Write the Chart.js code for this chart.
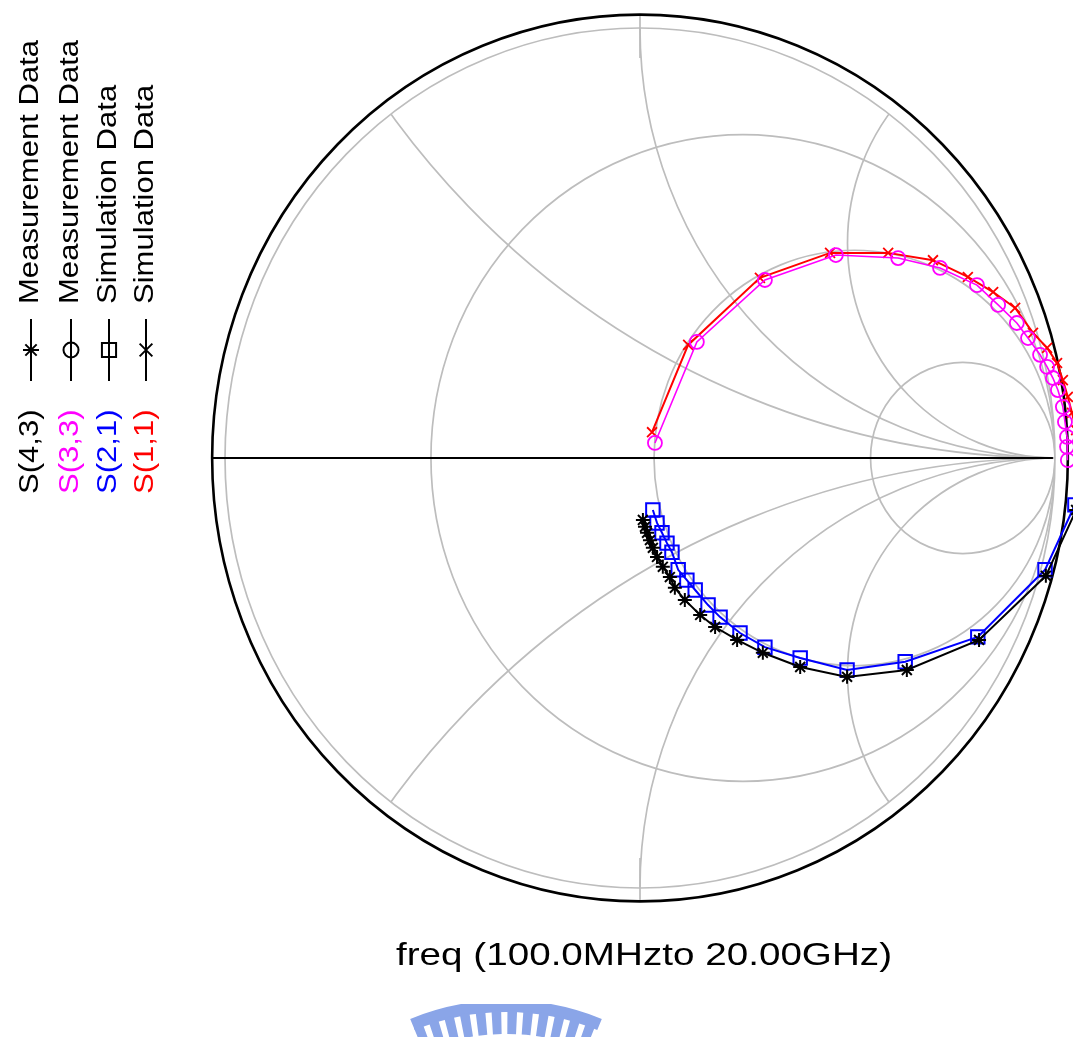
<!DOCTYPE html>
<html>
<head>
<meta charset="utf-8">
<title>Smith chart - S parameters</title>
<script src="https://cdn.jsdelivr.net/npm/chart.js@4.4.1/dist/chart.umd.min.js"></script>
<style>
    html, body { margin: 0; padding: 0; background: #fff; }
    #wrap { position: relative; width: 1073px; height: 1037px; }
</style>
</head>
<body>
<div id="wrap"><canvas id="smithChart" width="1073" height="1037"></canvas></div>
<script>
// Rejilla de la carta de Smith (resistencia / reactancia normalizadas)
const resistanceCircles = [0.33, 1.07, 3.5];
const reactanceArcs = [0.5, 1, 2];
const outerRing = 1.031;

// Leyenda
const seriesLabels = ['S(4,3)', 'S(3,3)', 'S(2,1)', 'S(1,1)'];
const seriesNames = ['Measurement Data', 'Measurement Data', 'Simulation Data', 'Simulation Data'];
const freqText = 'freq (100.0MHzto 20.00GHz)';

const s11Re = [0.029, 0.116, 0.289, 0.458, 0.598, 0.706, 0.790, 0.851, 0.904, 0.947, 0.981, 1.005, 1.019, 1.031, 1.041, 1.051, 1.055];
const s11Im = [0.060, 0.263, 0.419, 0.477, 0.477, 0.460, 0.421, 0.386, 0.349, 0.291, 0.256, 0.221, 0.181, 0.142, 0.105, 0.065, 0.019];

const s33Re = [0.036, 0.137, 0.301, 0.472, 0.622, 0.723, 0.812, 0.863, 0.908, 0.935, 0.964, 0.981, 0.995, 1.007, 1.019, 1.024, 1.029, 1.029, 1.031];
const s33Im = [0.035, 0.270, 0.414, 0.472, 0.465, 0.442, 0.402, 0.356, 0.314, 0.279, 0.240, 0.212, 0.186, 0.158, 0.119, 0.084, 0.049, 0.026, -0.005];

const s21Re = [0.031, 0.041, 0.053, 0.065, 0.077, 0.092, 0.113, 0.133, 0.164, 0.193, 0.241, 0.301, 0.386, 0.499, 0.639, 0.814, 0.976, 1.048, 1.060];
const s21Im = [-0.121, -0.151, -0.174, -0.198, -0.219, -0.260, -0.284, -0.307, -0.342, -0.370, -0.407, -0.440, -0.465, -0.493, -0.474, -0.416, -0.260, -0.109, -0.074];

const s43Re = [0.007, 0.012, 0.017, 0.024, 0.031, 0.041, 0.055, 0.072, 0.084, 0.108, 0.145, 0.181, 0.234, 0.296, 0.386, 0.499, 0.643, 0.817, 0.978, 1.051];
const s43Im = [-0.144, -0.160, -0.174, -0.191, -0.209, -0.230, -0.253, -0.277, -0.302, -0.330, -0.365, -0.393, -0.423, -0.453, -0.486, -0.509, -0.493, -0.423, -0.274, -0.121];

function toPoints(re, im) {
    return re.map((v, i) => ({ x: v, y: im[i] }));
}

const FONT = "'Liberation Sans', Arial, sans-serif";

// Dibuja la rejilla, el eje y el anillo exterior
const smithGrid = {
    id: 'smithGrid',
    beforeDatasetsDraw(chart) {
        const ctx = chart.ctx;
        const sx = chart.scales.x, sy = chart.scales.y;
        const kx = sx.getPixelForValue(1) - sx.getPixelForValue(0);
        const ky = sy.getPixelForValue(0) - sy.getPixelForValue(1);
        const ell = (gx, gy, r) => {
            ctx.beginPath();
            ctx.ellipse(sx.getPixelForValue(gx), sy.getPixelForValue(gy), r * kx, r * ky, 0, 0, 2 * Math.PI);
        };
        ctx.save();
        ctx.strokeStyle = '#bdbdbd';
        ctx.lineWidth = 1.7;
        ell(0, 0, 1);
        ctx.stroke();

        ctx.save();
        ell(0, 0, 1);
        ctx.clip();
        resistanceCircles.forEach(r => {
            ell(r / (1 + r), 0, 1 / (1 + r));
            ctx.stroke();
        });
        reactanceArcs.forEach(xv => {
            ell(1, 1 / xv, 1 / xv);
            ctx.stroke();
            ell(1, -1 / xv, 1 / xv);
            ctx.stroke();
        });
        ctx.restore();

        // marcas arriba y abajo
        const cx = sx.getPixelForValue(0);
        ctx.beginPath();
        ctx.moveTo(cx, sy.getPixelForValue(outerRing));
        ctx.lineTo(cx, sy.getPixelForValue(0.93));
        ctx.moveTo(cx, sy.getPixelForValue(-outerRing));
        ctx.lineTo(cx, sy.getPixelForValue(-0.93));
        ctx.stroke();

        // eje real
        ctx.strokeStyle = '#000';
        ctx.lineWidth = 2;
        ctx.beginPath();
        ctx.moveTo(sx.getPixelForValue(-outerRing), sy.getPixelForValue(0));
        ctx.lineTo(sx.getPixelForValue(0.995), sy.getPixelForValue(0));
        ctx.stroke();

        // anillo exterior
        ctx.lineWidth = 2.6;
        ell(0, 0, outerRing);
        ctx.stroke();
        ctx.restore();
    }
};

// Leyenda vertical, texto de frecuencia y marca de agua
const smithText = {
    id: 'smithText',
    afterDraw(chart) {
        const ctx = chart.ctx;
        const cols = [31, 71, 109, 146];
        const colors = ['#000000', '#ff00ff', '#0000ff', '#ff0000'];
        const styles = ['star', 'circle', 'rect', 'crossRot'];
        const radii = [8, 7.5, 10, 9];

        ctx.save();
        ctx.font = '27px ' + FONT;
        ctx.textAlign = 'left';
        ctx.textBaseline = 'middle';
        const drawUp = (text, cx, yBottom, color) => {
            ctx.save();
            ctx.translate(cx, yBottom);
            ctx.rotate(-Math.PI / 2);
            ctx.scale(1.15, 1);
            ctx.fillStyle = color;
            ctx.fillText(text, 0, 0);
            ctx.restore();
        };
        seriesLabels.forEach((lab, i) => {
            const cx = cols[i];
            drawUp(lab, cx, 494, colors[i]);
            drawUp(seriesNames[i], cx, 304, '#000');
            ctx.strokeStyle = '#000';
            ctx.lineWidth = 2;
            ctx.beginPath();
            ctx.moveTo(cx, 381);
            ctx.lineTo(cx, 319);
            ctx.stroke();
            ctx.fillStyle = 'rgba(0,0,0,0)';
            ctx.lineWidth = 2;
            Chart.helpers.drawPoint(ctx, { pointStyle: styles[i], radius: radii[i], rotation: 0, borderWidth: 2 }, cx, 350);
        });

        // texto de frecuencia
        ctx.font = '32px ' + FONT;
        ctx.textBaseline = 'alphabetic';
        ctx.fillStyle = '#000';
        const w = ctx.measureText(freqText).width;
        ctx.save();
        ctx.translate(396, 965);
        ctx.scale(496 / w, 1);
        ctx.fillText(freqText, 0, 0);
        ctx.restore();

        // marca de agua (parte del logotipo recortado)
        ctx.save();
        ctx.beginPath();
        ctx.rect(400, 1004, 220, 40);
        ctx.clip();
        ctx.fillStyle = 'rgb(138,165,232)';
        const ox = 506, oy = 1252;
        ctx.beginPath();
        ctx.arc(ox, oy, 252, -Math.PI / 2 - 0.39, -Math.PI / 2 + 0.39);
        ctx.arc(ox, oy, 240, -Math.PI / 2 + 0.39, -Math.PI / 2 - 0.39, true);
        ctx.closePath();
        ctx.fill();
        for (let a = -0.37; a <= 0.371; a += 0.066) {
            const a0 = -Math.PI / 2 + a - 0.02, a1 = -Math.PI / 2 + a + 0.02;
            ctx.beginPath();
            ctx.arc(ox, oy, 242, a0, a1);
            ctx.arc(ox, oy, 218, a1, a0, true);
            ctx.closePath();
            ctx.fill();
        }
        ctx.restore();
        ctx.restore();
    }
};

const ctx = document.getElementById('smithChart').getContext('2d');
const smithChart = new Chart(ctx, {
    type: 'scatter',
    data: {
        datasets: [
            {
                label: 'S(4,3)',
                data: toPoints(s43Re, s43Im),
                showLine: true,
                borderColor: '#000000',
                borderWidth: 2,
                pointStyle: 'star',
                pointRadius: 7,
                pointBorderWidth: 2,
                pointBorderColor: '#000000',
                pointBackgroundColor: 'rgba(0,0,0,0)',
                order: 0
            },
            {
                label: 'S(2,1)',
                data: toPoints(s21Re, s21Im),
                showLine: true,
                borderColor: '#0000ff',
                borderWidth: 2,
                pointStyle: 'rect',
                pointRadius: 9.5,
                pointBorderWidth: 2,
                pointBorderColor: '#0000ff',
                pointBackgroundColor: 'rgba(0,0,0,0)',
                order: 1
            },
            {
                label: 'S(3,3)',
                data: toPoints(s33Re, s33Im),
                showLine: true,
                borderColor: '#ff00ff',
                borderWidth: 1.6,
                pointStyle: 'circle',
                pointRadius: 7,
                pointBorderWidth: 1.8,
                pointBorderColor: '#ff00ff',
                pointBackgroundColor: 'rgba(0,0,0,0)',
                order: 2
            },
            {
                label: 'S(1,1)',
                data: toPoints(s11Re, s11Im),
                showLine: true,
                borderColor: '#ff0000',
                borderWidth: 2,
                pointStyle: 'crossRot',
                pointRadius: 7,
                pointBorderWidth: 1.8,
                pointBorderColor: '#ff0000',
                pointBackgroundColor: 'rgba(0,0,0,0)',
                order: 3
            }
        ]
    },
    options: {
        responsive: false,
        animation: false,
        devicePixelRatio: 1,
        layout: { padding: 0, autoPadding: false },
        plugins: {
            legend: { display: false },
            tooltip: { enabled: false },
            title: { display: false }
        },
        scales: {
            x: { type: 'linear', min: -1.5422, max: 1.0434, display: false },
            y: { type: 'linear', min: -1.3465, max: 1.0651, display: false }
        }
    },
    plugins: [smithGrid, smithText]
});
</script>
</body>
</html>
